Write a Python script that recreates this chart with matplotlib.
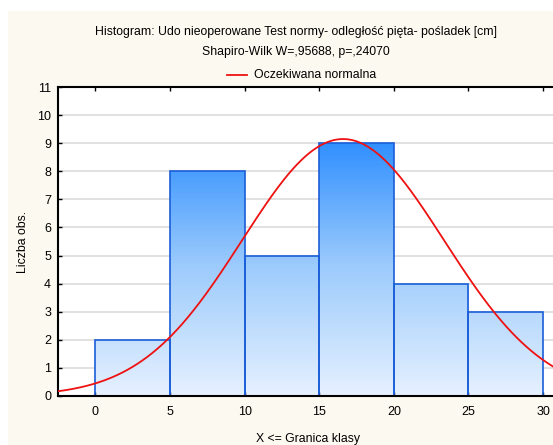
import numpy as np
import matplotlib.pyplot as plt
from matplotlib.colors import LinearSegmentedColormap
from matplotlib.patches import Rectangle

plt.rcParams['font.family'] = ['Liberation Sans', 'DejaVu Sans']

# histogram data
bin_edges = [0, 5, 10, 15, 20, 25, 30]
counts = [2, 8, 5, 9, 4, 3]

# expected normal (fitted)
n_obs = 31
mean = 16.6
sd = 6.76

title1 = "Histogram: Udo nieoperowane Test normy- odległość pięta- pośladek [cm]"
title2 = "Shapiro-Wilk W=,95688, p=,24070"
legend_label = "Oczekiwana normalna"

bg = "#fcf9f0"
fig = plt.figure(figsize=(5.53, 4.45), dpi=100)
fig.patch.set_facecolor("white")
# cream panel (white margin at top/left)
fig.patches.append(Rectangle((8 / 553, 0), 1, 1 - 11 / 445, transform=fig.transFigure,
                             facecolor=bg, edgecolor="none", zorder=-10))

ax = fig.add_axes([58 / 553, 49 / 445, 500 / 553, 309 / 445])
ax.set_facecolor("white")
ax.set_xlim(-2.5, 31)
ax.set_ylim(0, 11)

# horizontal grid
for yv in range(1, 11):
    ax.axhline(yv, color="#dcdcdc", lw=1.2, zorder=0)

# gradient bars
cmap = LinearSegmentedColormap.from_list("bars", ["#e6f1ff", "#9ccbfc", "#2a8cff"])
grad = np.linspace(0, 1, 256).reshape(-1, 1)
for i, c in enumerate(counts):
    x0, x1 = bin_edges[i], bin_edges[i + 1]
    im = ax.imshow(grad, extent=[-2.5, 31, 0, 9.3], origin="lower", cmap=cmap,
                   aspect="auto", zorder=1, vmin=0, vmax=1)
    rect = Rectangle((x0, 0), x1 - x0, c, facecolor="none", edgecolor="#1a5ed8",
                     lw=1.2, zorder=2)
    ax.add_patch(rect)
    im.set_clip_path(rect)

# normal curve
xs = np.linspace(-2.5, 31, 400)
ys = n_obs * 5 / (sd * np.sqrt(2 * np.pi)) * np.exp(-0.5 * ((xs - mean) / sd) ** 2)
ax.plot(xs, ys, color="#ee1111", lw=1.3, zorder=3, label=legend_label)

ax.set_xticks(bin_edges)
ax.set_yticks(range(0, 12))
ax.tick_params(direction="in", length=3, width=1, labelsize=9, pad=5,
               top=True, colors="black")
ax.tick_params(axis="x", pad=7)
for s in ["left", "bottom", "top"]:
    ax.spines[s].set_linewidth(1.5)
ax.spines["right"].set_visible(False)

ax.set_xlabel("X <= Granica klasy", fontsize=8.8, labelpad=11)
ax.set_ylabel("Liczba obs.", fontsize=8.8, labelpad=6)

fig.text(296 / 553, 1 - 32 / 445, title1, ha="center", va="center", fontsize=8.8)
fig.text(296 / 553, 1 - 52 / 445, title2, ha="center", va="center", fontsize=8.8)
fig.lines.append(plt.Line2D([227 / 553, 247 / 553], [1 - 75 / 445] * 2,
                            transform=fig.transFigure, color="#ee1111", lw=1.3))
fig.text(254 / 553, 1 - 75 / 445, legend_label, ha="left", va="center", fontsize=8.8)

fig.savefig("out.png", dpi=100, facecolor=fig.get_facecolor())
